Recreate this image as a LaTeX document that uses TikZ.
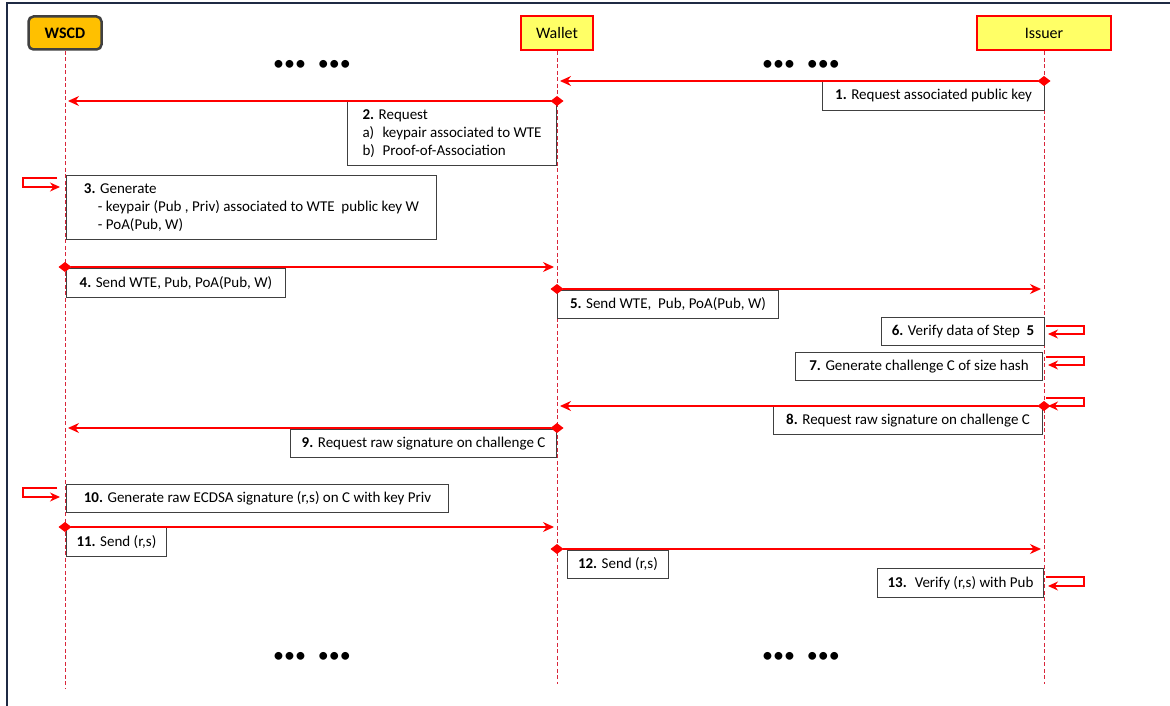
\documentclass[tikz,border=0pt]{standalone}
\usepackage{fontspec}
\setmainfont{Carlito}
\usepackage{tikz}
\usetikzlibrary{arrows.meta}
\definecolor{wscdorange}{HTML}{FFC000}
\definecolor{actoryellow}{HTML}{FFFF66}
\definecolor{framenavy}{HTML}{1F2A44}
\definecolor{lifered}{HTML}{D9263A}

\begin{document}
\begin{tikzpicture}[x=1pt,y=-1pt]
        % Styles
        \tikzset{
            actor/.style={rectangle, draw=red, line width=2.8pt, fill=actoryellow,
                         minimum height=34, font=\fontsize{16}{18}\selectfont},
            device/.style={rectangle, rounded corners=5pt, draw=black!75, line width=2.5pt,
                         fill=wscdorange, minimum height=33, font=\fontsize{16}{18}\selectfont\bfseries},
            lifeline/.style={draw=lifered, line width=0.8pt, dash pattern=on 4pt off 2.5pt},
            msg/.style={draw=red, line width=1.2pt,
                        {Diamond[length=13pt,width=10pt]}-{Stealth[length=11pt,width=10pt]},
                        shorten <=-6.5pt, shorten >=3pt},
            selfmsg/.style={draw=red, line width=1.1pt, -{Stealth[length=10pt,width=9pt]}},
            note/.style={rectangle, draw=black!75, line width=0.9pt, fill=white, inner xsep=8pt,
                         minimum height=28, align=left, font=\fontsize{15}{18}\selectfont},
            dots/.style={font=\fontsize{22}{22}\selectfont}
        }
        \useasboundingbox (0,0) rectangle (1170,706);

        % Frame
        \draw[framenavy, line width=1.5pt] (7,706) -- (7,3) -- (1170,3);

        % Participants
        \node[device, minimum width=73] (wscd) at (65,33) {WSCD};
        \node[actor, minimum width=72] (wallet) at (557,33) {Wallet};
        \node[actor, minimum width=134] (issuer) at (1044,33) {Issuer};

        \coordinate (wscdend) at (65,688);
        \coordinate (walletend) at (557,684);
        \coordinate (issuerend) at (1044,684);

        \draw[lifeline] (wscd) -- (wscdend);
        \draw[lifeline] (wallet) -- (walletend);
        \draw[lifeline] (issuer) -- (issuerend);

        % Ellipses
        \node[dots] (dotsa) at (312,65) {\textbullet\textbullet\textbullet\hspace{12pt}\textbullet\textbullet\textbullet};
        \node[dots] (dotsb) at (801,65) {\textbullet\textbullet\textbullet\hspace{12pt}\textbullet\textbullet\textbullet};
        \node[dots] (dotsc) at (312,657) {\textbullet\textbullet\textbullet\hspace{12pt}\textbullet\textbullet\textbullet};
        \node[dots] (dotsd) at (801,657) {\textbullet\textbullet\textbullet\hspace{12pt}\textbullet\textbullet\textbullet};

        % Message heights
        \coordinate (m1) at (0,81);
        \coordinate (m2) at (0,101);
        \coordinate (s3) at (0,178);
        \coordinate (m4) at (0,267);
        \coordinate (m5) at (0,289);
        \coordinate (s6) at (0,326);
        \coordinate (s7) at (0,357);
        \coordinate (s8) at (0,398);
        \coordinate (m8) at (0,406);
        \coordinate (m9) at (0,428);
        \coordinate (s10) at (0,488);
        \coordinate (m11) at (0,527);
        \coordinate (m12) at (0,549);
        \coordinate (s13) at (0,577);

        % Annotations
        \node[note, anchor=north east, minimum width=222, minimum height=29] (n1) at (1045,81)
            {\textbf{1.} Request associated public key};
        \node[note, anchor=north east, minimum width=209, minimum height=64] (n2) at (557,101)
            {\textbf{2.} Request\\\makebox[20pt][l]{a)}keypair associated to WTE\\\makebox[20pt][l]{b)}Proof-of-Association};
        \node[note, anchor=north west, minimum width=370, minimum height=64] (n3) at (66,175)
            {\textbf{3.} Generate\\\hspace{14pt}- keypair (Pub , Priv) associated to WTE \ public key W\\\hspace{14pt}- PoA(Pub, W)};
        \node[note, anchor=north west, minimum width=219, minimum height=29] (n4) at (66,268)
            {\textbf{4.} Send WTE, Pub, PoA(Pub, W)};
        \node[note, anchor=north west, minimum width=221] (n5) at (557,290)
            {\textbf{5.} Send WTE, \ Pub, PoA(Pub, W)};
        \node[note, anchor=north east, minimum width=163] (n6) at (1045,317)
            {\textbf{6.} Verify data of Step \ \textbf{5}};
        \node[note, anchor=north east, minimum width=247] (n7) at (1043,352)
            {\textbf{7.} Generate challenge C of size hash};
        \node[note, anchor=north east, minimum width=269] (n8) at (1043,406)
            {\textbf{8.} Request raw signature on challenge C};
        \node[note, anchor=north east, minimum width=266] (n9) at (557,429)
            {\textbf{9.} Request raw signature on challenge C};
        \node[note, anchor=north west, minimum width=382] (n10) at (66,484)
            {\textbf{10.} Generate raw ECDSA signature (r,s) on C with key Priv};
        \node[note, anchor=north west, minimum width=100, minimum height=29] (n11) at (66,527)
            {\textbf{11.} Send (r,s)};
        \node[note, anchor=north west, minimum width=101] (n12) at (567,550)
            {\textbf{12.} Send (r,s)};
        \node[note, anchor=north east, minimum width=166, minimum height=29] (n13) at (1044,568)
            {\textbf{13.} \ Verify (r,s) with Pub};

        % Messages
        \draw[msg] (issuer |- m1) -- (wallet |- m1);
        \draw[msg] (wallet |- m2) -- (wscd |- m2);
        \draw[selfmsg] ([xshift=-8pt]wscd |- s3) -| ++(-34,9) -- ++(37,0);
        \draw[msg] (wscd |- m4) -- (wallet |- m4);
        \draw[msg] (wallet |- m5) -- (issuer |- m5);
        \draw[selfmsg] ([xshift=2pt]issuer |- s6) -| ++(38,8) -- ++(-36,0);
        \draw[selfmsg] ([xshift=2pt]issuer |- s7) -| ++(38,8) -- ++(-36,0);
        \draw[selfmsg] ([xshift=2pt]issuer |- s8) -| ++(38,8) -- ++(-36,0);
        \draw[msg] (issuer |- m8) -- (wallet |- m8);
        \draw[msg] (wallet |- m9) -- (wscd |- m9);
        \draw[selfmsg] ([xshift=-8pt]wscd |- s10) -| ++(-34,9) -- ++(37,0);
        \draw[msg] (wscd |- m11) -- (wallet |- m11);
        \draw[msg] (wallet |- m12) -- (issuer |- m12);
        \draw[selfmsg] ([xshift=2pt]issuer |- s13) -| ++(38,9) -- ++(-36,0);
    \end{tikzpicture}
\end{document}
